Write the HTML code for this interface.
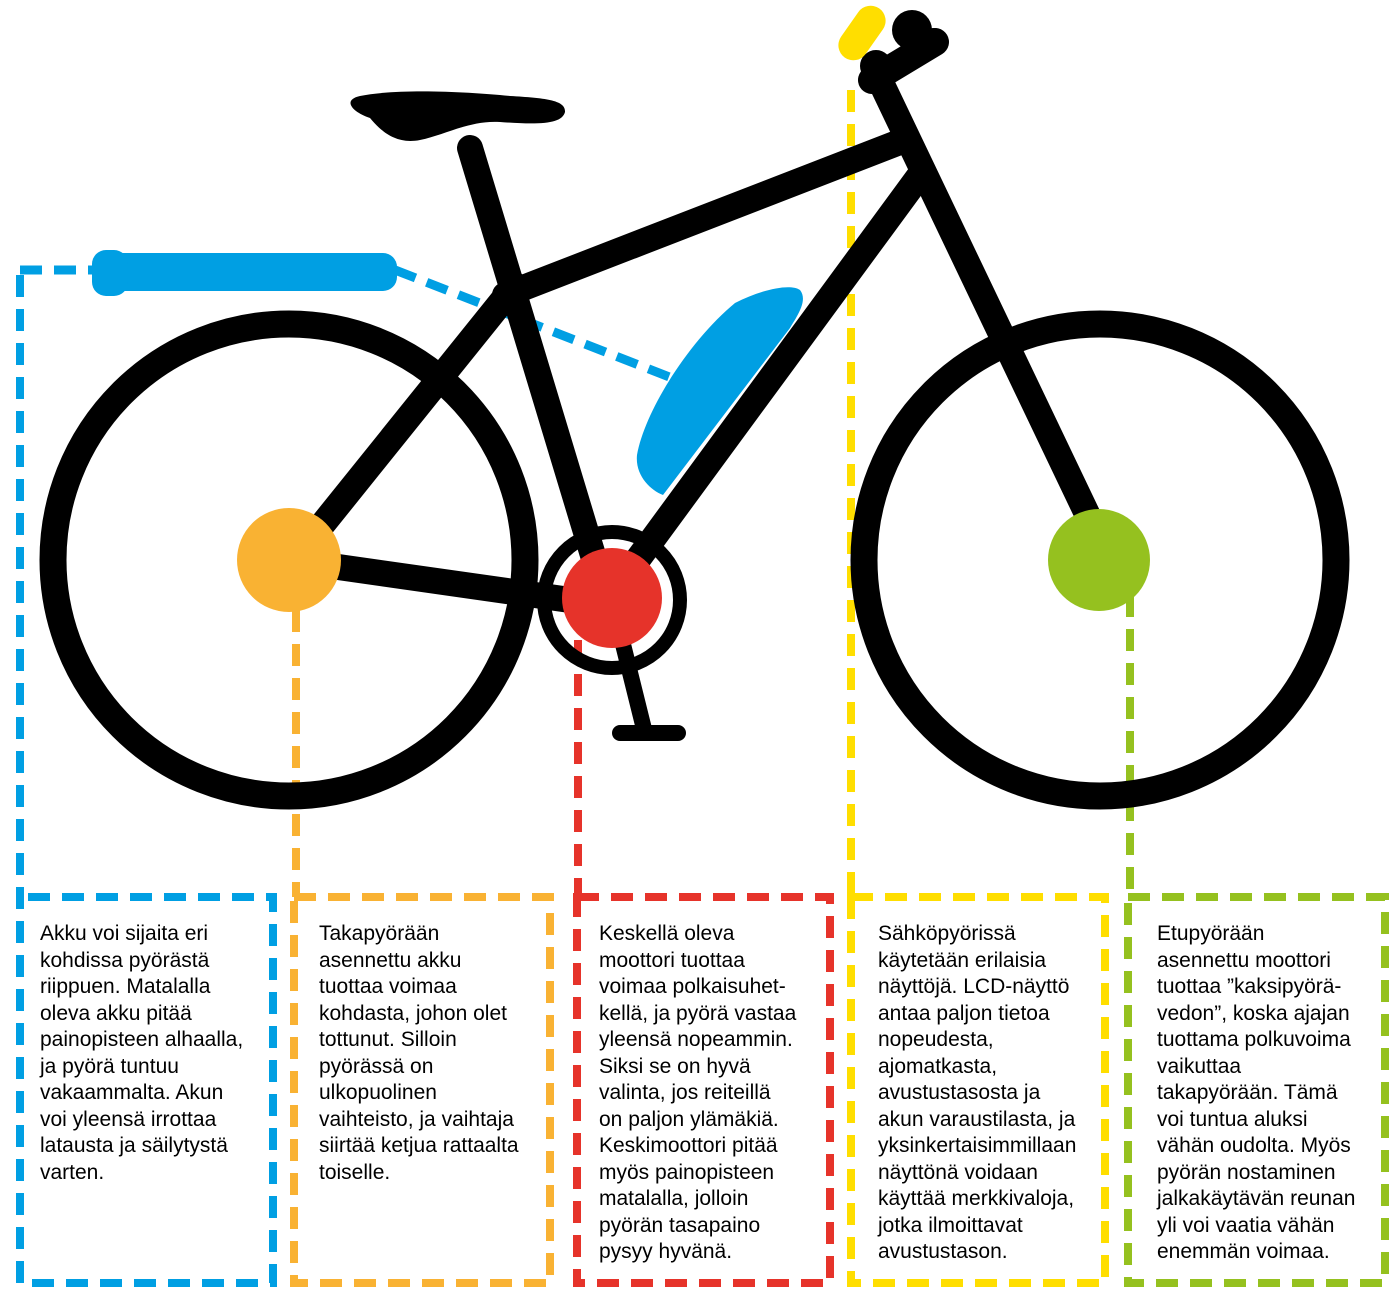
<!DOCTYPE html>
<html><head><meta charset="utf-8"><style>
body{margin:0;width:1400px;height:1300px;background:#fff;position:relative;overflow:hidden}
svg{position:absolute;left:0;top:0}
.t{position:absolute;top:921px;font-family:"Liberation Sans",sans-serif;font-size:21px;line-height:26.5px;color:#000;width:250px;white-space:nowrap}
</style></head><body>
<svg width="1400" height="1300" viewBox="0 0 1400 1300">
<g fill="none" stroke-width="8" stroke-dasharray="22 12">
<path d="M20 270 H92" stroke="#009fe3" stroke-width="9"/>
<path d="M20 275 V1283 H273 V897 H20" stroke="#009fe3"/>
<path d="M395 270 L672 378" stroke="#009fe3" stroke-width="9"/>
<path d="M296 610 V897" stroke="#f9b233"/>
<path d="M294 897 H550 V1283 H294 Z" stroke="#f9b233"/>
<path d="M578 640 V897" stroke="#e6332a"/>
<path d="M577 897 H830 V1283 H577 Z" stroke="#e6332a"/>
<path d="M851 90 V897" stroke="#ffde00"/>
<path d="M851 897 H1105 V1283 H851 Z" stroke="#ffde00"/>
<path d="M1130 595 V897" stroke="#95c11f"/>
<path d="M1128 897 H1385 V1283 H1128 Z" stroke="#95c11f"/>
</g>
<g fill="none" stroke="#000" stroke-linecap="round">
<circle cx="289" cy="560" r="236" stroke-width="27"/>
<circle cx="1100" cy="560" r="236" stroke-width="27"/>
<circle cx="612" cy="600" r="68" stroke-width="14"/>
<g stroke-width="26">
<path d="M470 148 L605 595"/>
<path d="M505 295 L905 140"/>
<path d="M630 570 L920 175"/>
<path d="M875 70 L1090 520"/>
<path d="M310 540 L515 285"/>
<path d="M289 560 L570 600"/>
</g>
<path d="M612 600 L645 733" stroke-width="16"/>
<path d="M620 733 H678" stroke-width="16"/>
<path d="M872 80 L935 42" stroke-width="28"/>
</g>
<circle cx="912" cy="30" r="20"/>
<circle cx="934" cy="42" r="14"/>
<circle cx="876" cy="66" r="16"/>
<path d="M360 96 C400 88 470 92 510 96 C545 98 566 100 565 112 C562 124 540 125 500 122 C470 120 445 135 420 140 C395 145 380 130 370 118 C352 112 342 100 360 96 Z"/>
<rect x="847" y="3" width="30" height="60" rx="15" fill="#ffde00" transform="rotate(35 862 33)"/>
<rect x="92" y="253" width="305" height="38" rx="14" fill="#009fe3"/>
<rect x="92" y="250" width="36" height="46" rx="14" fill="#009fe3"/>
<path d="M663 495 C650 490 635 475 637 455 C645 410 690 340 735 303 C760 290 790 283 800 290 C808 300 798 315 790 328 Z" fill="#009fe3"/>
<circle cx="289" cy="560" r="52" fill="#f9b233"/>
<circle cx="1099" cy="560" r="51" fill="#95c11f"/>
<circle cx="612" cy="598" r="50" fill="#e6332a"/>
</svg>
<div class="t" style="left:40px">Akku voi sijaita eri<br>kohdissa pyörästä<br>riippuen. Matalalla<br>oleva akku pitää<br>painopisteen alhaalla,<br>ja pyörä tuntuu<br>vakaammalta. Akun<br>voi yleensä irrottaa<br>latausta ja säilytystä<br>varten.</div>
<div class="t" style="left:319px">Takapyörään<br>asennettu akku<br>tuottaa voimaa<br>kohdasta, johon olet<br>tottunut. Silloin<br>pyörässä on<br>ulkopuolinen<br>vaihteisto, ja vaihtaja<br>siirtää ketjua rattaalta<br>toiselle.</div>
<div class="t" style="left:599px">Keskellä oleva<br>moottori tuottaa<br>voimaa polkaisuhet-<br>kellä, ja pyörä vastaa<br>yleensä nopeammin.<br>Siksi se on hyvä<br>valinta, jos reiteillä<br>on paljon ylämäkiä.<br>Keskimoottori pitää<br>myös painopisteen<br>matalalla, jolloin<br>pyörän tasapaino<br>pysyy hyvänä.</div>
<div class="t" style="left:878px">Sähköpyörissä<br>käytetään erilaisia<br>näyttöjä. LCD-näyttö<br>antaa paljon tietoa<br>nopeudesta,<br>ajomatkasta,<br>avustustasosta ja<br>akun varaustilasta, ja<br>yksinkertaisimmillaan<br>näyttönä voidaan<br>käyttää merkkivaloja,<br>jotka ilmoittavat<br>avustustason.</div>
<div class="t" style="left:1157px">Etupyörään<br>asennettu moottori<br>tuottaa ”kaksipyörä-<br>vedon”, koska ajajan<br>tuottama polkuvoima<br>vaikuttaa<br>takapyörään. Tämä<br>voi tuntua aluksi<br>vähän oudolta. Myös<br>pyörän nostaminen<br>jalkakäytävän reunan<br>yli voi vaatia vähän<br>enemmän voimaa.</div>
</body></html>
